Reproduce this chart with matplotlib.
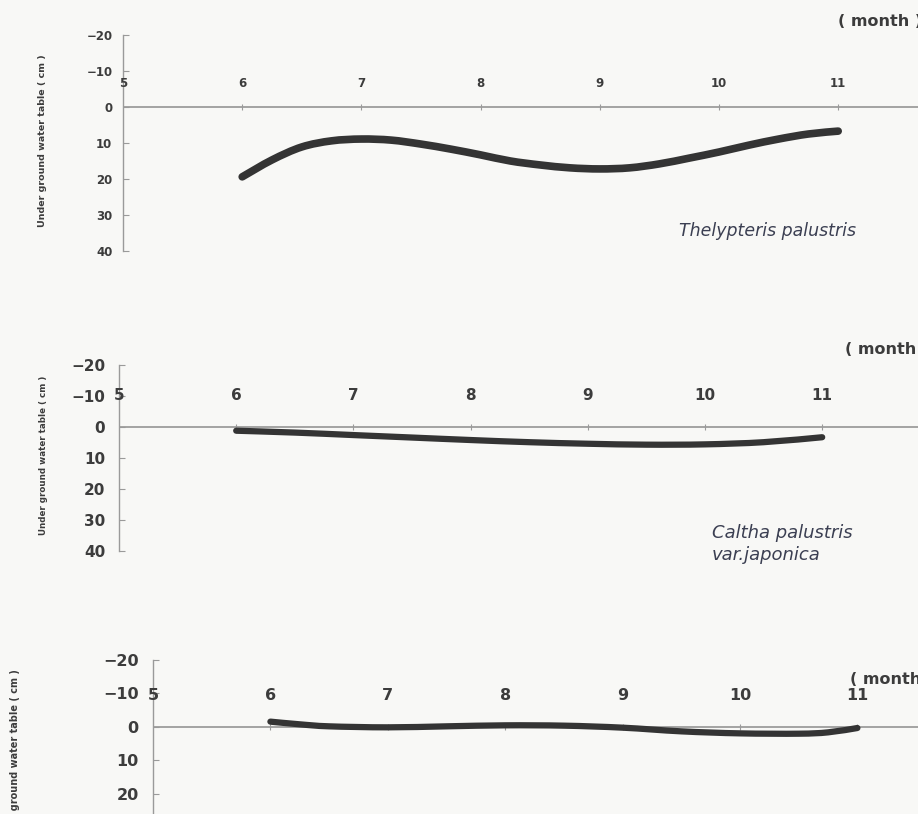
import matplotlib
matplotlib.use("Agg")
import matplotlib.pyplot as plt
from matplotlib.path import Path
from matplotlib.patches import PathPatch

W, H = 918, 814

# Monthly x ticks shared by all panels
month_ticks = [5, 6, 7, 8, 9, 10, 11]
y_ticks = [-20, -10, 0, 10, 20, 30, 40]

# Thelypteris palustris: groundwater depth (cm) below surface
thel_months = [6, 6.25, 6.5, 6.75, 7, 7.25, 7.5, 7.75, 8, 8.25, 8.5, 8.75,
               9, 9.25, 9.5, 9.75, 10, 10.25, 10.5, 10.75, 11]
thel_depth = [19.4, 14.7, 11.1, 9.4, 8.9, 9.2, 10.3, 11.7, 13.3, 15.0, 16.1, 16.9,
              17.2, 16.9, 15.8, 14.2, 12.5, 10.6, 8.9, 7.5, 6.7]

# Caltha palustris var. japonica
calt_months = [6, 6.5, 7, 7.5, 8, 8.5, 9, 9.5, 10, 10.5, 11]
calt_depth = [1.2, 1.8, 2.6, 3.4, 4.2, 4.9, 5.4, 5.7, 5.6, 4.9, 3.3]

# Third site
third_months = [6, 6.25, 6.5, 7, 7.5, 8, 8.5, 9, 9.5, 10, 10.5, 10.75, 11]
third_depth = [-1.6, -0.8, -0.2, 0.1, -0.2, -0.5, -0.4, 0.2, 1.3, 1.9, 2.0, 1.6, 0.3]

BG = "#f8f8f6"
fig = plt.figure(figsize=(W / 100, H / 100), dpi=100, facecolor=BG)

ylabel_text = "Under ground water table ( cm )"


def smooth_path(xs, ys):
    """Catmull-Rom curve through the points, expressed as cubic Bezier segments."""
    n = len(xs)
    verts = [(xs[0], ys[0])]
    codes = [Path.MOVETO]
    for i in range(n - 1):
        x0, y0 = (xs[i - 1], ys[i - 1]) if i > 0 else (xs[i], ys[i])
        x1, y1 = xs[i], ys[i]
        x2, y2 = xs[i + 1], ys[i + 1]
        x3, y3 = (xs[i + 2], ys[i + 2]) if i + 2 < n else (xs[i + 1], ys[i + 1])
        c1 = (x1 + (x2 - x0) / 6, y1 + (y2 - y0) / 6)
        c2 = (x2 - (x3 - x1) / 6, y2 - (y3 - y1) / 6)
        verts += [c1, c2, (x2, y2)]
        codes += [Path.CURVE4] * 3
    return Path(verts, codes)


def make_panel(x0, ppm, y_top, px10, tick_fs, lw, xs, ys, species,
               sp_xy, sp_fs, month_xy, month_fs, ylab_x, ylab_fs, ylab_center,
               xlab_y):
    # axes spans from month 5 to the right edge, and -20 .. 40 cm vertically
    y_bot = y_top + 6 * px10
    ax = fig.add_axes([x0 / W, 1 - y_bot / H, (W - x0) / W, (y_bot - y_top) / H])
    ax.set_facecolor("none")
    ax.set_xlim(5, 5 + (W - x0) / ppm)
    ax.set_ylim(40, -20)
    for s in ["top", "right", "bottom"]:
        ax.spines[s].set_visible(False)
    ax.spines["left"].set_color("#9a9a9a")
    ax.spines["left"].set_linewidth(1.0)
    ax.set_xticks([])
    ax.set_yticks(y_ticks)
    ax.set_yticklabels([str(v).replace("-", "\u2212") for v in y_ticks])
    ax.tick_params(axis="y", direction="in", length=4, color="#9a9a9a",
                   labelsize=tick_fs, labelcolor="#3c3c3c", pad=tick_fs * 0.9)
    for lab in ax.get_yticklabels():
        lab.set_fontweight("bold")
    ax.axhline(0, color="#8c8c8c", lw=1.1, zorder=1)
    # small month ticks across the zero line
    ax.plot(month_ticks[1:], [0] * (len(month_ticks) - 1), ls="none",
            marker="|", ms=5, color="#9a9a9a", mew=0.8, zorder=1)
    for m in month_ticks:
        ax.text(m, xlab_y, str(m), ha="center", va="center", fontsize=tick_fs,
                color="#3c3c3c", fontweight="bold")
    patch = PathPatch(smooth_path(xs, ys), facecolor="none", edgecolor="#343434",
                      lw=lw, capstyle="round", joinstyle="round", zorder=3)
    ax.add_patch(patch)
    if species:
        fig.text(sp_xy[0] / W, 1 - sp_xy[1] / H, species, fontsize=sp_fs,
                 style="italic", color="#3b3f52", ha="left", va="center",
                 linespacing=1.25)
    fig.text(month_xy[0] / W, 1 - month_xy[1] / H, "( month )", fontsize=month_fs,
             color="#3c3c3c", fontweight="bold", ha="left", va="center")
    fig.text(ylab_x / W, 1 - ylab_center / H, ylabel_text, rotation=90,
             fontsize=ylab_fs, color="#3c3c3c", fontweight="bold",
             ha="center", va="center")
    return ax


make_panel(x0=123, ppm=119.2, y_top=35, px10=36, tick_fs=8.5, lw=5.5,
           xs=thel_months, ys=thel_depth, species="Thelypteris palustris",
           sp_xy=(679, 231), sp_fs=12.5, month_xy=(838, 21), month_fs=11.5,
           ylab_x=43, ylab_fs=6.8, ylab_center=141, xlab_y=-6.5)

make_panel(x0=119, ppm=117.2, y_top=365, px10=31, tick_fs=11, lw=4.5,
           xs=calt_months, ys=calt_depth,
           species="Caltha palustris\nvar.japonica",
           sp_xy=(712, 544), sp_fs=13, month_xy=(845, 349), month_fs=11.5,
           ylab_x=44, ylab_fs=6.3, ylab_center=455, xlab_y=-10)

make_panel(x0=153, ppm=117.4, y_top=660, px10=33.5, tick_fs=11.5, lw=4.5,
           xs=third_months, ys=third_depth, species="",
           sp_xy=(700, 900), sp_fs=11, month_xy=(850, 680), month_fs=11.5,
           ylab_x=15, ylab_fs=7, ylab_center=758, xlab_y=-9.5)

fig.savefig("out.png", dpi=100, facecolor=BG)
